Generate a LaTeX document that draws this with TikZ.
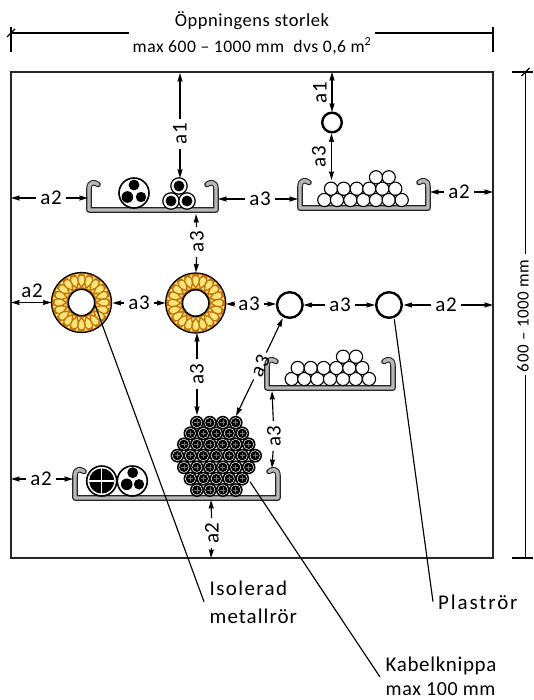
\documentclass[tikz,border=0pt]{standalone}
\usepackage{fontspec}
\setmainfont[LetterSpace=3]{Carlito}
\usetikzlibrary{arrows.meta}
\definecolor{trayfill}{HTML}{B8B8B8}
\definecolor{insorange}{HTML}{C4740E}
\definecolor{insyellow}{HTML}{FBE679}
\tikzset{
  tip/.tip={Stealth[length=8.5pt,width=5pt,inset=0.6pt]},
  dimline/.style={line width=1.15pt,-tip},
  bothends/.style={line width=1.15pt,tip-tip},
  dimtext/.style={inner xsep=4pt,inner ysep=0pt,font=\fontsize{21}{21}\selectfont},
  reftext/.style={inner sep=0pt,anchor=west,font=\fontsize{21}{21}\selectfont},
  toptext/.style={inner xsep=0pt,inner ysep=0pt},
  frameline/.style={line width=1.6pt,draw=black!85},
  leader/.style={line width=1.15pt},
  thinline/.style={line width=1.15pt},
}
% tray: left, right, top, bottom
\newcommand{\traypath}[4]{(#1+9,#3+3.5) .. controls (#1+6,#3+1) and (#1,#3) .. (#1,#3+8) -- (#1,#4) -- (#2,#4) -- (#2,#3+8) .. controls (#2,#3) and (#2-6,#3+1) .. (#2-9,#3+3.5)}
\newcommand{\tray}[4]{%
  \draw[line width=5.6pt,line cap=round,line join=round,draw=black!85] \traypath{#1}{#2}{#3}{#4};
  \draw[line width=3.4pt,line cap=round,line join=round,draw=trayfill] \traypath{#1}{#2}{#3}{#4};
}
\newcommand{\whitepipe}[2]{\draw[fill=white,line width=1.1pt] (#1,#2) circle (6.6);}
\newcommand{\bundlecable}[2]{%
  \fill[black] (#1,#2) circle (6.9);
  \fill[white] (#1,#2) circle (5.4);
  \fill[black] (#1,#2) circle (4.7);
  \draw[black!55,line width=0.6pt] (#1-2.6,#2) -- (#1+2.6,#2) (#1,#2-2.6) -- (#1,#2+2.6);
}
\newcommand{\ringcable}[2]{%
  \draw[line width=1.2pt,fill=white] (#1,#2) circle (8.2);
  \fill[black] (#1,#2) circle (5.4);
}
\newcommand{\threecore}[2]{%
  \draw[line width=1.6pt,fill=white] (#1,#2) circle (15);
  \fill[black] (#1,#2-8) circle (5.4);
  \fill[black] (#1-6.6,#2+4) circle (5.8);
  \fill[black] (#1+7,#2+4) circle (5.2);
}
\newcommand{\insulated}[3]{%
  \coordinate (#1) at (#2,#3);
  \begin{scope}[shift={(#2,#3)}]
    \fill[insorange] (0,0) circle (30);
    \foreach \a in {0,18,...,342}{
      \fill[insyellow,rotate=\a] (16.5,0) .. controls (19.5,-1.6) and (21,-3.9) .. (24.5,-2.9)
        .. controls (27.6,-1.9) and (27.6,1.9) .. (24.5,2.9)
        .. controls (21,3.9) and (19.5,1.6) .. (16.5,0) -- cycle;
      \fill[insyellow,rotate=\a+9] (15.2,-1.3) -- (18,0) -- (15.2,1.3) -- cycle;
      \fill[insyellow,rotate=\a+9] (28.6,-1.6) -- (25.5,0) -- (28.6,1.6) -- cycle;
    }
    \draw[line width=1.2pt] (0,0) circle (30);
    \draw[line width=1.5pt,fill=white] (0,0) circle (13.2);
  \end{scope}
}
% dimension: label node, then arrows run from it to named ends
\newcommand{\dimlab}[5]{\node[dimtext,rotate=#5] (#1) at (#2,#3) {#4};}
\newcommand{\dimto}[3]{\coordinate (#1-#2) at (#3); \draw[dimline] (#1) -- (#1-#2);}
\newcommand{\dimtick}[2]{\draw[thinline] ([shift={(-4,4)}]#1) -- ([shift={(4,-4)}]#1);}
\begin{document}
\begin{tikzpicture}[x=1pt,y=-1pt]
\useasboundingbox (0,0) rectangle (533,700);
\fill[white] (0,0) rectangle (533,700);
% frame
\draw[frameline] (11,72) rectangle (493,558);
% trays and contents
\tray{89}{216}{181}{210}
\tray{300}{428}{179}{208}
\tray{267}{393}{358}{388}
\tray{75}{278}{468}{498}
\threecore{134}{193}
\ringcable{179}{186}\ringcable{171}{201}\ringcable{187}{201}
\foreach \x in {324.3,337,350.3,363.3,376,388.7,401.7}{\whitepipe{\x}{200}}
\foreach \x in {331,343.7,356.7,369.3,382.3,395.3}{\whitepipe{\x}{188.7}}
\foreach \x in {376,388.7}{\whitepipe{\x}{177.3}}
\foreach \x in {291.7,304.3,317.3,330,343,355.7,369}{\whitepipe{\x}{379}}
\foreach \x in {297.7,310.7,323.7,336.3,349.3,362.3}{\whitepipe{\x}{368}}
\foreach \x in {343,356}{\whitepipe{\x}{356.7}}
% large cables in lower tray
\draw[line width=1.6pt,fill=white] (101.7,481) circle (15);
\fill[black] (101.7,481) circle (12.6);
\draw[white,line width=1.2pt] (89,481) -- (114.4,481) (101.7,468.4) -- (101.7,493.6);
\draw[line width=1.6pt,fill=white] (132.3,481) circle (15);
\fill[black] (132.7,472.7) circle (5.4);
\fill[black] (126.7,484.3) circle (5.8);
\fill[black] (139,484.3) circle (5.2);
% bundle
\foreach \y/\n/\s in {422.7/4/196.9,433.3/5/190.4,444.3/6/183.9,455.7/7/177.4,467.3/6/183.9,478.7/5/190.4,490/4/196.9}{
  \foreach \i in {1,...,\n}{
    \pgfmathsetmacro{\xx}{\s+(\i-1)*12.95}
    \bundlecable{\xx}{\y}
  }
}
% pipes
\draw[line width=2.4pt,fill=white] (332,122.5) circle (9.8);
\draw[line width=2.4pt,fill=white] (289.8,305) circle (12.8);
\draw[line width=2.4pt,fill=white] (389,305) circle (12.8);
\insulated{insA}{81.5}{302.5}
\insulated{insB}{195.7}{303}
% top dimension
\node[toptext,font=\fontsize{18.5}{18.5}\selectfont] (toptxt) at (252,21) {Öppningens storlek};
\node[toptext,anchor=west,font=\fontsize{17.6}{17.6}\selectfont] (topval) at (132.5,46) {max 600 -- 1000 mm\ \ dvs 0,6 m\textsuperscript{2}};
\coordinate (tl) at (11,33); \coordinate (tr) at (493,33);
\coordinate (tlm) at (129,33); \coordinate (trm) at (375,33);
\draw[thinline] (tl) -- (tlm) (trm) -- (tr);
\draw[thinline] (11,27) -- (11,52) (493,27) -- (493,52);
\dimtick{tl}\dimtick{tr}
% right dimension
\coordinate (rt) at (525.5,72); \coordinate (rb) at (525.5,558);
\node[rotate=90,inner xsep=5pt,inner ysep=0pt,font=\fontsize{17}{17}\selectfont] (rtxt) at (523,316) {600 -- 1000 mm};
\draw[thinline] (rt) -- (525.5,254) (525.5,375) -- (rb);
\draw[thinline] (512,72) -- (533,72) (512,558) -- (533,558);
\dimtick{rt}\dimtick{rb}
% horizontal dimensions
\dimlab{h1}{51}{198}{a2}{0}\dimto{h1}{a}{11,198}\dimto{h1}{b}{88,198}
\dimlab{h2}{260}{199}{a3}{0}\dimto{h2}{a}{218,199}\dimto{h2}{b}{298,199}
\dimlab{h3}{459}{192}{a2}{0}\dimto{h3}{a}{430,192}\dimto{h3}{b}{493,192}
\dimlab{h5}{139}{303}{a3}{0}\dimto{h5}{a}{112.5,303}\dimto{h5}{b}{165.5,303}
\dimlab{h6}{249}{304}{a3}{0}\dimto{h6}{a}{226,304}\dimto{h6}{b}{276,304}
\dimlab{h7}{340}{305}{a3}{0}\dimto{h7}{a}{303.5,305}\dimto{h7}{b}{375,305}
\dimlab{h8}{446}{305}{a2}{0}\dimto{h8}{a}{403.5,305}\dimto{h8}{b}{493,305}
\dimlab{h9}{41}{479}{a2}{0}\dimto{h9}{a}{11,479}\dimto{h9}{b}{73,479}
% a2 beside its line
\node[dimtext] (h4) at (32,291) {a2};
\coordinate (h4a) at (11,302.5); \coordinate (h4b) at (51.5,302.5);
\draw[bothends] (h4a) -- (h4b);
% vertical dimensions
\dimlab{v1}{180}{134}{a1}{90}\dimto{v1}{a}{180,73}\dimto{v1}{b}{180,178}
\dimlab{v2}{197}{242}{a3}{90}\dimto{v2}{a}{196,214}\dimto{v2}{b}{196,272.5}
\dimlab{v3}{197}{374}{a3}{90}\dimto{v3}{a}{197,333}\dimto{v3}{b}{197,415}
\dimlab{v4}{274}{436}{a3}{90}\dimto{v4}{a}{272,391}\dimto{v4}{b}{272,468}
\dimlab{v5}{212}{533}{a2}{90}\dimto{v5}{a}{211,500}\dimto{v5}{b}{211,558}
\dimlab{d1}{260}{366}{a3}{64}\dimto{d1}{a}{282.7,318.3}\dimto{d1}{b}{236,416}
% right stack
\node[dimtext,rotate=90] (v6) at (320,93) {a1};
\node[dimtext,rotate=90] (v7) at (319,157) {a3};
\coordinate (v6a) at (332,72); \coordinate (v6b) at (332,112);
\coordinate (v7a) at (331.5,133.5); \coordinate (v7b) at (331.5,180);
\draw[bothends] (v6a) -- (v6b);
\draw[bothends] (v7a) -- (v7b);
% leaders and their labels
\node[reftext] (iso) at (209.5,588) {\addfontfeature{LetterSpace=6.5}Isolerad};
\node[reftext] (met) at (209.5,616) {\addfontfeature{LetterSpace=5}metallrör};
\node[reftext] (pla) at (438,602) {\addfontfeature{LetterSpace=9}Plaströr};
\node[reftext] (kab) at (385.5,666) {Kabelknippa};
\node[reftext,font=\fontsize{20}{20}\selectfont] (mx) at (385.5,689) {max 100 mm};
\coordinate (l1a) at (95,305); \coordinate (l1b) at (204,601.7);
\coordinate (l2a) at (250,481.7); \coordinate (l2b) at (380,677);
\coordinate (l3a) at (394.3,319.3); \coordinate (l3b) at (433,601.7);
\draw[leader] (l1a) -- (l1b);
\draw[leader] (l2a) -- (l2b);
\draw[leader] (l3a) -- (l3b);
\end{tikzpicture}
\end{document}
